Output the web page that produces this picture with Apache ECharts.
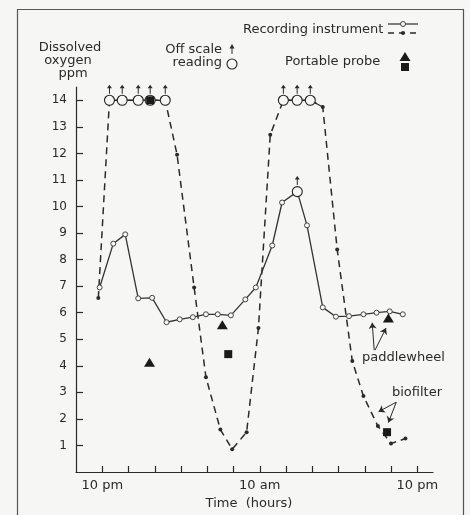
<!DOCTYPE html>
<html>
<head>
<meta charset="utf-8">
<script src="https://cdn.jsdelivr.net/npm/echarts@6/dist/echarts.min.js"></script>
<style>
html,body{margin:0;padding:0;background:#f6f6f4;}
#c{width:470px;height:515px;}
</style>
</head>
<body>
<div id="c"></div>
<script>
// ---- data (hours after 10 pm, dissolved oxygen ppm) ----
const solidHours = [-0.2, 0.84, 1.75, 2.74, 3.8, 4.9, 5.9, 6.9, 7.9, 8.8, 9.8, 10.9, 11.7, 12.95, 13.7, 14.86, 15.6, 16.8, 17.8, 18.8, 19.9, 20.9, 21.9, 22.9];
const solidPpm   = [6.95, 8.6, 8.95, 6.54, 6.56, 5.64, 5.75, 5.83, 5.94, 5.94, 5.9, 6.5, 6.95, 8.53, 10.15, 10.56, 9.29, 6.2, 5.85, 5.87, 5.94, 6.0, 6.05, 5.94];
const dashedHours = [-0.3, 0.55, 1.52, 2.74, 3.65, 4.8, 5.7, 7.0, 7.9, 9.0, 9.9, 11.0, 11.9, 12.8, 13.8, 14.85, 15.85, 16.8, 17.9, 19.05, 19.9, 21.0, 22.0, 23.1];
const dashedPpm   = [6.55, 14, 14, 14, 14, 14, 11.95, 6.95, 3.57, 1.6, 0.86, 1.5, 5.42, 12.7, 14, 14, 14, 13.75, 8.38, 4.18, 2.86, 1.73, 1.07, 1.26];
const offHours = [0.55, 1.52, 2.74, 3.65, 4.8, 13.8, 14.85, 15.85, 14.86];
const offPpm   = [14, 14, 14, 14, 14, 14, 14, 14, 10.56];
const triHours = [3.6, 9.15, 21.8];
const triPpm   = [4.13, 5.55, 5.8];
const sqHours  = [3.65, 9.6, 21.7];
const sqPpm    = [14, 4.44, 1.5];
const xTickHours = [0, 2, 4, 6, 8, 10, 12, 14, 16, 18, 20, 22, 24];
const xLabelHours = [0, 12, 24];
const xLabelText = ['10 pm', '10 am', '10 pm'];
const yTicks = [1, 2, 3, 4, 5, 6, 7, 8, 9, 10, 11, 12, 13, 14];
// annotation arrows (data coords): [startX, startY, endX, endY]
const paddleArrows = [[20.72, 4.59, 20.57, 5.62], [20.78, 4.59, 21.62, 5.42]];
const bioArrows = [[22.4, 2.63, 21.05, 2.27], [22.4, 2.63, 21.8, 1.86]];

const FONT = 'DejaVu Sans';
const INK = '#2a2a2a';
const BG = '#f6f6f4';
const pair = (xs, ys) => xs.map((x, i) => [x, ys[i]]);
const connector = dashedHours.map((h, i) => dashedPpm[i] >= 14 || (i > 0 && dashedPpm[i-1] >= 14 && dashedPpm[i] > 13) ? [h, dashedPpm[i]] : [h, '-']);
const arrowPath = 'path://M3,0L6,4.5L3.6,4.5L3.6,12L2.4,12L2.4,4.5L0,4.5Z';
const toMarkLine = arr => arr.map(a => [{coord: [a[0], a[1]], symbol: 'none'}, {coord: [a[2], a[3]], symbol: 'arrow'}]);

const chart = echarts.init(document.getElementById('c'), null, {renderer: 'canvas'});
const option = {
  backgroundColor: BG,
  animation: false,
  grid: {left: 76, top: 87, width: 357, height: 385},
  xAxis: {
    type: 'value', min: -2, max: 25.2,
    axisLine: {onZero: false, lineStyle: {color: INK, width: 1.2}},
    axisTick: {show: true, inside: true, length: 6, customValues: xTickHours, lineStyle: {color: INK, width: 1.2}},
    axisLabel: {customValues: xLabelHours, margin: 7, color: INK, fontFamily: FONT, fontSize: 13,
      formatter: v => xLabelText[xLabelHours.indexOf(v)] || ''},
    splitLine: {show: false}
  },
  yAxis: {
    type: 'value', min: 0, max: 14.5,
    axisLine: {show: true, onZero: false, lineStyle: {color: INK, width: 1.2}},
    axisTick: {show: true, inside: true, length: 7, customValues: yTicks, lineStyle: {color: INK, width: 1.2}},
    axisLabel: {customValues: yTicks, margin: 9, color: INK, fontFamily: FONT, fontSize: 12},
    splitLine: {show: false}
  },
  series: [
    {type: 'line', data: pair(dashedHours, dashedPpm), z: 2,
     lineStyle: {color: INK, width: 1.5, type: [7, 5]},
     symbol: 'circle', symbolSize: 4, itemStyle: {color: INK}},
    {type: 'line', data: connector, z: 3, symbol: 'none',
     lineStyle: {color: INK, width: 1.2}},
    {type: 'line', data: pair(solidHours, solidPpm), z: 4,
     lineStyle: {color: '#333', width: 1.3},
     symbol: 'circle', symbolSize: 5, itemStyle: {color: BG, borderColor: '#444', borderWidth: 1},
     markLine: {silent: true, symbolSize: 6, label: {show: false},
       lineStyle: {color: INK, width: 1, type: 'solid'},
       data: toMarkLine(paddleArrows.concat(bioArrows))}},
    {type: 'scatter', data: pair(offHours, offPpm), z: 5, symbol: 'circle', symbolSize: 10,
     itemStyle: {color: BG, borderColor: '#222', borderWidth: 1.1, opacity: 1}},
    {type: 'scatter', data: pair(offHours, offPpm), z: 5, symbol: arrowPath, symbolSize: [5, 9],
     symbolOffset: [0, -11], itemStyle: {color: INK, opacity: 1}},
    {type: 'scatter', data: pair(triHours, triPpm), z: 6, symbol: 'triangle', symbolSize: [11, 9],
     itemStyle: {color: '#1a1a1a', opacity: 1}},
    {type: 'scatter', data: pair(sqHours, sqPpm), z: 6, symbol: 'rect', symbolSize: 8,
     itemStyle: {color: '#1a1a1a', opacity: 1}}
  ],
  graphic: [
    {type: 'rect', shape: {x: 17.5, y: 9.5, width: 446, height: 520}, style: {fill: 'none', stroke: '#555', lineWidth: 1.2}, silent: true},
    {type: 'text', x: 70, y: 48, style: {text: 'Dissolved', font: '13px ' + FONT, fill: INK, align: 'center', verticalAlign: 'middle'}},
    {type: 'text', x: 68, y: 61, style: {text: 'oxygen', font: '13px ' + FONT, fill: INK, align: 'center', verticalAlign: 'middle'}},
    {type: 'text', x: 73, y: 74, style: {text: 'ppm', font: '13px ' + FONT, fill: INK, align: 'center', verticalAlign: 'middle'}},
    {type: 'text', x: 222, y: 50, style: {text: 'Off scale', font: '13px ' + FONT, fill: INK, align: 'right', verticalAlign: 'middle'}},
    {type: 'text', x: 222, y: 63, style: {text: 'reading', font: '13px ' + FONT, fill: INK, align: 'right', verticalAlign: 'middle'}},
    {type: 'circle', shape: {cx: 232, cy: 64, r: 5}, style: {fill: BG, stroke: '#222', lineWidth: 1.1}},
    {type: 'polygon', shape: {points: [[232, 44], [234.5, 48.5], [229.5, 48.5]]}, style: {fill: INK}},
    {type: 'line', shape: {x1: 232, y1: 48, x2: 232, y2: 54}, style: {stroke: INK, lineWidth: 1}},
    {type: 'text', x: 243, y: 30, style: {text: 'Recording instrument', font: '13px ' + FONT, fill: INK, align: 'left', verticalAlign: 'middle'}},
    {type: 'line', shape: {x1: 388, y1: 24, x2: 418, y2: 24}, style: {stroke: INK, lineWidth: 1.2}},
    {type: 'circle', shape: {cx: 403, cy: 24, r: 2.5}, style: {fill: BG, stroke: '#444', lineWidth: 1}},
    {type: 'line', shape: {x1: 388, y1: 33, x2: 418, y2: 33}, style: {stroke: INK, lineWidth: 1.4, lineDash: [6, 5]}},
    {type: 'circle', shape: {cx: 403, cy: 33, r: 2}, style: {fill: INK}},
    {type: 'text', x: 285, y: 62, style: {text: 'Portable probe', font: '13px ' + FONT, fill: INK, align: 'left', verticalAlign: 'middle'}},
    {type: 'polygon', shape: {points: [[405, 52], [410.5, 61], [399.5, 61]]}, style: {fill: '#1a1a1a'}},
    {type: 'rect', shape: {x: 401, y: 63, width: 8, height: 8}, style: {fill: '#1a1a1a'}},
    {type: 'text', x: 362, y: 358, style: {text: 'paddlewheel', font: '13px ' + FONT, fill: INK, align: 'left', verticalAlign: 'middle'}},
    {type: 'text', x: 392, y: 393, style: {text: 'biofilter', font: '13px ' + FONT, fill: INK, align: 'left', verticalAlign: 'middle'}},
    {type: 'text', x: 249, y: 504, style: {text: 'Time  (hours)', font: '13px ' + FONT, fill: INK, align: 'center', verticalAlign: 'middle'}}
  ]
};
chart.setOption(option);
</script>
</body>
</html>
